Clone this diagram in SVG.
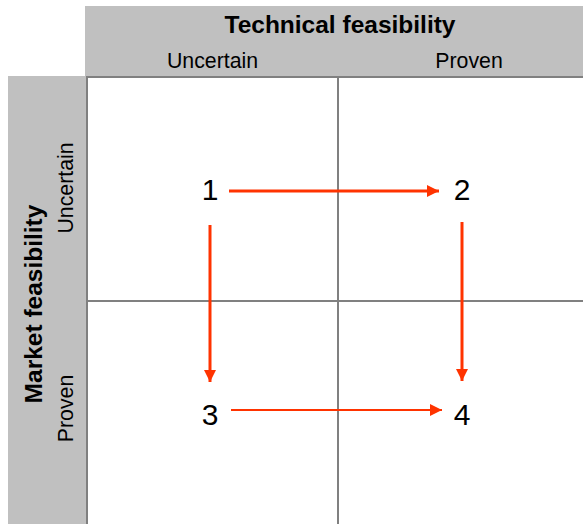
<svg xmlns="http://www.w3.org/2000/svg" width="583" height="524" viewBox="0 0 583 524">
<defs>
<style>
.hdr{fill:#c0c0c0}
.grid{fill:none;stroke:#808080;stroke-width:2}
.t{font-family:"Liberation Sans",Arial,sans-serif;fill:#000}
.title{font-size:24.5px;font-weight:bold}
.sub{font-size:21.3px}
.num{font-size:30px}
.arr{stroke:#ff3300;fill:none}
</style>
<marker id="ah" viewBox="0 0 10 10" refX="10" refY="5" markerWidth="4" markerHeight="4" markerUnits="strokeWidth" orient="auto">
<path d="M0,0 L10,5 L0,10 z" fill="#ff3300"/>
</marker>
<marker id="ah2" viewBox="0 0 10 10" refX="10" refY="5" markerWidth="6" markerHeight="6" markerUnits="strokeWidth" orient="auto">
<path d="M0,0 L10,5 L0,10 z" fill="#ff3300"/>
</marker>
</defs>
<rect width="583" height="524" fill="#fff"/>
<g id="top-header">
<rect class="hdr" x="85" y="6" width="498" height="70"/>
<text class="t title" x="340" y="33" text-anchor="middle">Technical feasibility</text>
<text class="t sub" x="212.5" y="68" text-anchor="middle">Uncertain</text>
<text class="t sub" x="469" y="68" text-anchor="middle">Proven</text>
</g>
<g id="left-header">
<rect class="hdr" x="8" y="76" width="78" height="448"/>
<text class="t title" transform="translate(42,304) rotate(-90)" text-anchor="middle">Market feasibility</text>
<text class="t sub" transform="translate(73,188) rotate(-90)" text-anchor="middle">Uncertain</text>
<text class="t sub" transform="translate(73,408.5) rotate(-90)" text-anchor="middle">Proven</text>
</g>
<g id="grid">
<rect x="86" y="76" width="497" height="448" fill="#fff"/>
<path class="grid" d="M87,525 V77 H584 M338,77 V524 M87,301 H584"/>
</g>
<g id="n1"><text class="t num" x="210" y="200" text-anchor="middle">1</text></g>
<g id="n2"><text class="t num" x="462" y="200" text-anchor="middle">2</text></g>
<g id="n3"><text class="t num" x="210" y="425" text-anchor="middle">3</text></g>
<g id="n4"><text class="t num" x="462" y="425" text-anchor="middle">4</text></g>
<g id="connectors">
<path class="arr" stroke-width="3" d="M229,191 H439" marker-end="url(#ah)"/>
<path class="arr" stroke-width="3" d="M210,225 V382" marker-end="url(#ah)"/>
<path class="arr" stroke-width="3" d="M462,222 V381" marker-end="url(#ah)"/>
<path class="arr" stroke-width="2" d="M231,410 H442" marker-end="url(#ah2)"/>
</g>
</svg>
